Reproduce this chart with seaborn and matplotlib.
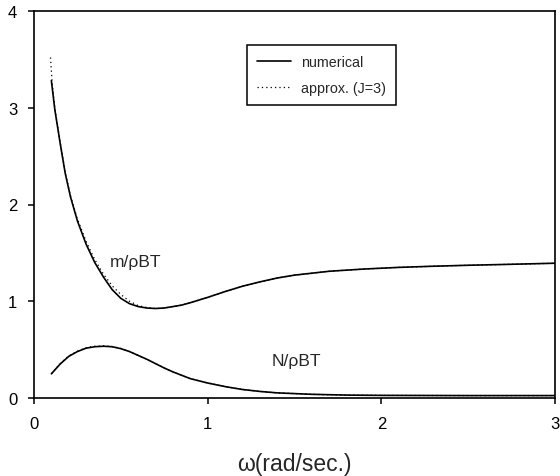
import matplotlib
matplotlib.use("Agg")
import matplotlib.pyplot as plt
import seaborn as sns
import pandas as pd

# m/rhoBT, numerical
m_num_w = [0.10, 0.12, 0.15, 0.18, 0.21, 0.25, 0.30, 0.35, 0.40, 0.45, 0.50, 0.55, 0.60,
           0.65, 0.70, 0.75, 0.80, 0.85, 0.90, 1.00, 1.10, 1.20, 1.30, 1.40, 1.50, 1.70,
           1.90, 2.10, 2.30, 2.50, 2.70, 3.00]
m_num_v = [3.28, 2.98, 2.64, 2.32, 2.08, 1.83, 1.59, 1.40, 1.25, 1.12, 1.03, 0.975, 0.945,
           0.93, 0.925, 0.93, 0.945, 0.96, 0.985, 1.04, 1.10, 1.155, 1.20, 1.24, 1.27, 1.31,
           1.333, 1.35, 1.362, 1.372, 1.380, 1.393]
# m/rhoBT, approx (J=3)
m_apx_w = [0.095, 0.105, 0.12, 0.15, 0.18, 0.21, 0.25, 0.30, 0.35, 0.40, 0.45, 0.50, 0.55,
           0.60, 0.65, 0.70, 0.75, 0.80, 0.85, 0.90, 1.00, 1.10, 1.20, 1.30, 1.40, 1.50,
           1.70, 1.90, 2.10, 2.30, 2.50, 2.70, 3.00]
m_apx_v = [3.52, 3.25, 2.99, 2.65, 2.33, 2.09, 1.85, 1.62, 1.43, 1.28, 1.16, 1.07, 1.00,
           0.955, 0.935, 0.925, 0.93, 0.945, 0.96, 0.985, 1.04, 1.10, 1.155, 1.20, 1.24, 1.27,
           1.31, 1.333, 1.35, 1.362, 1.372, 1.380, 1.393]
# N/rhoBT, numerical
n_num_w = [0.10, 0.15, 0.20, 0.25, 0.30, 0.35, 0.40, 0.45, 0.50, 0.55, 0.60, 0.65, 0.70,
           0.75, 0.80, 0.85, 0.90, 1.00, 1.10, 1.20, 1.30, 1.40, 1.60, 1.80, 2.00, 2.50, 3.00]
n_num_v = [0.25, 0.35, 0.43, 0.48, 0.515, 0.53, 0.535, 0.53, 0.51, 0.48, 0.44, 0.40, 0.355,
           0.31, 0.27, 0.235, 0.20, 0.155, 0.118, 0.088, 0.068, 0.053, 0.038, 0.030, 0.027,
           0.025, 0.025]
# N/rhoBT, approx (J=3)
n_apx_w = [0.10, 0.15, 0.20, 0.25, 0.30, 0.35, 0.40, 0.45, 0.50, 0.55, 0.60, 0.65, 0.70,
           0.75, 0.80, 0.85, 0.90, 1.00, 1.10, 1.20, 1.30, 1.40, 1.60, 1.80, 2.00, 2.50, 3.00]
n_apx_v = [0.25, 0.355, 0.435, 0.485, 0.52, 0.535, 0.538, 0.532, 0.512, 0.48, 0.44, 0.40, 0.355,
           0.31, 0.27, 0.235, 0.20, 0.155, 0.118, 0.088, 0.068, 0.053, 0.038, 0.030, 0.027,
           0.025, 0.025]

x_ticks = [0, 1, 2, 3]
y_ticks = [0, 1, 2, 3, 4]
legend_labels = ["numerical", "approx. (J=3)"]
x_label = "ω(rad/sec.)"
m_label = "m/ρBT"
n_label = "N/ρBT"

sns.set_style("ticks")
plt.rcParams["font.family"] = ["Liberation Sans", "DejaVu Sans"]

fig = plt.figure(figsize=(5.6, 4.77), dpi=100)
ax = fig.add_axes([34 / 560, 1 - 399 / 477, (555 - 34) / 560, (399 - 12) / 477])

df_m_apx = pd.DataFrame({"w": m_apx_w, "v": m_apx_v})
df_n_apx = pd.DataFrame({"w": n_apx_w, "v": n_apx_v})
df_m_num = pd.DataFrame({"w": m_num_w, "v": m_num_v})
df_n_num = pd.DataFrame({"w": n_num_w, "v": n_num_v})

dot = (0, (1, 2.5))
sns.lineplot(data=df_m_apx, x="w", y="v", ax=ax, color="black", lw=0.9, linestyle=dot,
             sort=False, label=legend_labels[1])
sns.lineplot(data=df_n_apx, x="w", y="v", ax=ax, color="black", lw=0.9, linestyle=dot,
             sort=False)
sns.lineplot(data=df_m_num, x="w", y="v", ax=ax, color="black", lw=1.2,
             sort=False, label=legend_labels[0])
sns.lineplot(data=df_n_num, x="w", y="v", ax=ax, color="black", lw=1.2, sort=False)

ax.set_xlim(0, 3)
ax.set_ylim(0, 4)
ax.set_xticks(x_ticks)
ax.set_xticklabels([str(t) for t in x_ticks])
ax.set_yticks(y_ticks)
ax.set_yticklabels([str(t) for t in y_ticks])
ax.set_xlabel(x_label, fontsize=16.5, labelpad=15)
ax.set_ylabel("")
for s in ax.spines.values():
    s.set_visible(True)
    s.set_color("black")
    s.set_linewidth(1.2)
ax.tick_params(axis="both", direction="out", length=4, width=1.1, colors="black",
               labelsize=12)
ax.tick_params(axis="x", pad=9)
ax.tick_params(axis="y", pad=8)

ax.text(0.4375, 1.41, m_label, fontsize=12.5, ha="left", va="center")
ax.text(1.368, 0.386, n_label, fontsize=12.5, ha="left", va="center")

h, l = ax.get_legend_handles_labels()
order = [l.index(legend_labels[0]), l.index(legend_labels[1])]
leg = ax.legend([h[i] for i in order], [l[i] for i in order],
                loc="upper left", bbox_to_anchor=(247 / 560, 1 - 46 / 477),
                bbox_transform=fig.transFigure, fontsize=10.3, frameon=True,
                fancybox=False, edgecolor="black", framealpha=1, handlelength=2.4,
                handletextpad=0.7, labelspacing=0.85, borderpad=0.7, borderaxespad=0)
leg.get_frame().set_linewidth(1.1)

fig.savefig("out.png", dpi=100)
